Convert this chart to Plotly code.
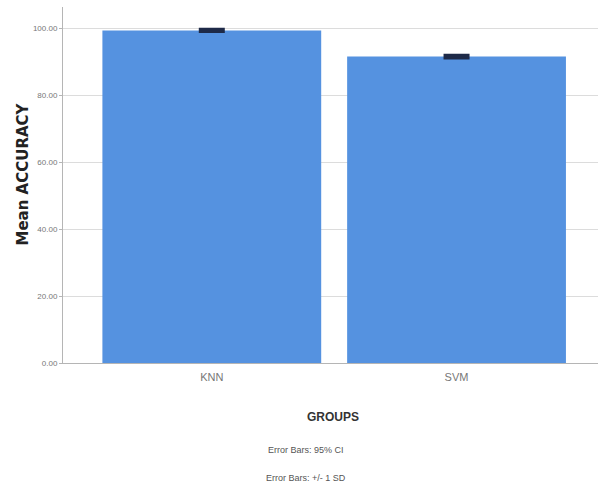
import plotly.graph_objects as go

groups = ["KNN", "SVM"]
mean_accuracy = [99.3, 91.5]
error_95ci = [0.35, 0.4]
y_tick_vals = [0, 20, 40, 60, 80, 100]
y_tick_text = ["0.00", "20.00", "40.00", "60.00", "80.00", "100.00"]

W, H = 598, 488
L, R, T, B = 63, 0, 7, 125

fig = go.Figure()
fig.add_trace(go.Bar(
    x=groups, y=mean_accuracy, width=0.894,
    marker=dict(color="#5592E0", line=dict(width=0)),
    error_y=dict(type="data", array=error_95ci, visible=True,
                 color="#1e2a48", thickness=3, width=13),
    showlegend=False, hoverinfo="skip",
))

font = "Liberation Sans Narrow, Liberation Sans, Arial, sans-serif"
fig.update_layout(
    width=W, height=H,
    margin=dict(l=L, r=R, t=T, b=B, pad=0),
    paper_bgcolor="white", plot_bgcolor="white",
    font=dict(family=font, color="#555555"),
    xaxis=dict(range=[-0.608, 1.578], showgrid=False, showline=True,
               linecolor="#b5b5b5", linewidth=1, ticks="",
               tickfont=dict(size=11, color="#777777"), ticklabelstandoff=4),
    yaxis=dict(range=[0, 106.3], tickvals=y_tick_vals, ticktext=y_tick_text,
               showgrid=True, gridcolor="#dcdcdc", gridwidth=1,
               showline=True, linecolor="#b5b5b5", linewidth=1,
               ticks="outside", ticklen=3, tickcolor="#b5b5b5",
               tickfont=dict(size=8, color="#777777"), zeroline=False),
    bargap=0.1,
)

pw = W - L - R
ph = H - T - B

def px_x(x):
    return (x - L) / pw

def px_y(y):
    return (H - B - y) / ph

def note(text, x, y, size, color, family=font, angle=0):
    fig.add_annotation(text=text, x=px_x(x), y=px_y(y), xref="paper", yref="paper",
                       xanchor="center", yanchor="middle", showarrow=False,
                       textangle=angle, font=dict(family=family, size=size, color=color))

note("<b>Mean ACCURACY</b>", 22, 174.5, 15, "#222222",
     family="DejaVu Sans, Verdana, sans-serif", angle=-90)
note("<b>GROUPS</b>", 333, 417, 12, "#333333")
note("Error Bars: 95% CI", 306, 450, 9, "#555555")
note("Error Bars: +/- 1 SD", 306, 478, 9, "#555555")

fig.write_html("out.html", config={"displayModeBar": False},
               post_script="document.body.style.margin='0';document.body.style.overflow='hidden';")
